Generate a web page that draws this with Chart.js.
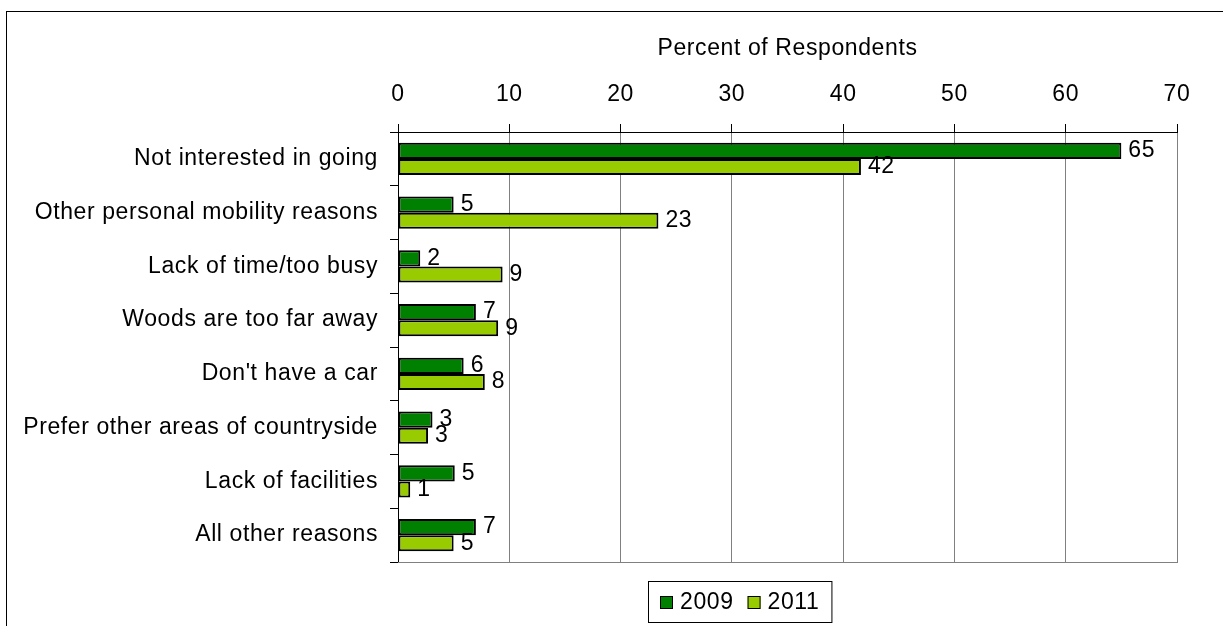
<!DOCTYPE html>
<html>
<head>
<meta charset="utf-8">
<script src="https://cdn.jsdelivr.net/npm/chart.js@4"></script>
<style>
  html, body { margin: 0; padding: 0; background: #fff; overflow: hidden; }
  canvas { display: block; }
</style>
</head>
<body>
<canvas id="chart" width="1223" height="626"></canvas>
<script>
// Categories and series
const categories = [
    'Not interested in going',
    'Other personal mobility reasons',
    'Lack of time/too busy',
    'Woods are too far away',
    "Don't have a car",
    'Prefer other areas of countryside',
    'Lack of facilities',
    'All other reasons'
];
const values2009 = [65, 5, 2, 7, 5.9, 3.1, 5.1, 7];
const values2011 = [41.6, 23.4, 9.4, 9, 7.8, 2.7, 1.1, 5];
const seriesNames = ['2009', '2011'];
const xTicks = [0, 10, 20, 30, 40, 50, 60, 70];

const FONT = 'Liberation Sans, Arial, sans-serif';
const FSIZE = 23;
const SPACING = '0.6px';
const colors = ['#008000', '#99CC00'];

// Slightly wider lettering, like the source picture
const spacingPlugin = {
    id: 'spacing',
    beforeInit(chart) { chart.ctx.letterSpacing = SPACING; },
    beforeLayout(chart) { chart.ctx.letterSpacing = SPACING; },
    beforeDraw(chart) {
        const ctx = chart.ctx;
        ctx.letterSpacing = SPACING;
        // outer frame
        ctx.save();
        ctx.strokeStyle = '#000';
        ctx.lineWidth = 1;
        ctx.strokeRect(6.5, 11.5, 1400, 800);
        ctx.restore();
    }
};

// Bottom edge of plot area, value labels, legend
const extrasPlugin = {
    id: 'extras',
    afterDatasetsDraw(chart) {
        const ctx = chart.ctx;
        const area = chart.chartArea;
        ctx.save();
        ctx.letterSpacing = SPACING;
        ctx.strokeStyle = '#808080';
        ctx.lineWidth = 1;
        ctx.beginPath();
        ctx.moveTo(area.left, Math.round(area.bottom) + 0.5);
        ctx.lineTo(area.right + 1, Math.round(area.bottom) + 0.5);
        ctx.stroke();

        ctx.fillStyle = '#000';
        ctx.font = FSIZE + 'px ' + FONT;
        ctx.textAlign = 'left';
        ctx.textBaseline = 'middle';
        chart.data.datasets.forEach((ds, di) => {
            const meta = chart.getDatasetMeta(di);
            meta.data.forEach((bar, i) => {
                ctx.fillText(String(Math.round(ds.data[i])), bar.x + 7, bar.y);
            });
        });
        ctx.restore();
    },
    afterDraw(chart) {
        const ctx = chart.ctx;
        ctx.save();
        ctx.letterSpacing = SPACING;
        ctx.font = FSIZE + 'px ' + FONT;
        ctx.textBaseline = 'middle';
        const box = 13, gap = 7, itemGap = 14, pad = 12;
        const items = chart.data.datasets.map(ds => ({
            label: ds.label, color: ds.backgroundColor, w: ctx.measureText(ds.label).width
        }));
        let total = pad * 2;
        items.forEach((it, i) => { total += box + gap + it.w + (i ? itemGap : 0); });
        const left = Math.round(740 - total / 2);
        const top = 581, h = 41;
        ctx.strokeStyle = '#000';
        ctx.lineWidth = 1;
        ctx.strokeRect(left + 0.5, top + 0.5, total, h);
        let x = left + pad;
        const cy = top + h / 2 + 1;
        items.forEach((it, i) => {
            if (i) x += itemGap;
            ctx.fillStyle = it.color;
            ctx.fillRect(x, cy - box / 2, box, box);
            ctx.strokeStyle = '#000';
            ctx.strokeRect(x + 0.5, cy - box / 2 + 0.5, box - 1, box - 1);
            x += box + gap;
            ctx.fillStyle = '#000';
            ctx.fillText(it.label, x, cy);
            x += it.w;
        });
        ctx.restore();
    }
};

const ctx = document.getElementById('chart').getContext('2d');
new Chart(ctx, {
    type: 'bar',
    data: {
        labels: categories,
        datasets: [
            {
                label: seriesNames[0],
                data: values2009,
                backgroundColor: colors[0],
                borderColor: '#000',
                borderWidth: 2,
                borderSkipped: false,
                categoryPercentage: 0.6,
                barPercentage: 1.0
            },
            {
                label: seriesNames[1],
                data: values2011,
                backgroundColor: colors[1],
                borderColor: '#000',
                borderWidth: 2,
                borderSkipped: false,
                categoryPercentage: 0.6,
                barPercentage: 1.0
            }
        ]
    },
    options: {
        indexAxis: 'y',
        responsive: false,
        animation: false,
        devicePixelRatio: 1,
        layout: { padding: { left: 0, right: 46, top: 0, bottom: 64 } },
        plugins: {
            legend: { display: false },
            tooltip: { enabled: false }
        },
        scales: {
            x: {
                position: 'top',
                min: 0,
                max: 70,
                afterBuildTicks(scale) {
                    scale.ticks = xTicks.map(v => ({ value: v }));
                },
                afterFit(scale) { scale.height = 132; },
                grid: {
                    color: '#808080',
                    tickColor: '#000',
                    tickLength: 8,
                    lineWidth: 1
                },
                border: { color: '#000', width: 1 },
                ticks: {
                    color: '#000',
                    font: { family: FONT, size: FSIZE },
                    padding: 16
                },
                title: {
                    display: true,
                    text: 'Percent of Respondents',
                    color: '#000',
                    font: { family: FONT, size: FSIZE },
                    padding: { top: 35, bottom: 0 }
                }
            },
            y: {
                afterFit(scale) { scale.width = 398; },
                grid: {
                    offset: true,
                    drawOnChartArea: false,
                    tickColor: '#000',
                    tickLength: 8
                },
                border: { color: '#000', width: 1 },
                ticks: {
                    color: '#000',
                    font: { family: FONT, size: FSIZE },
                    padding: 12
                }
            }
        }
    },
    plugins: [spacingPlugin, extrasPlugin]
});
</script>
</body>
</html>
